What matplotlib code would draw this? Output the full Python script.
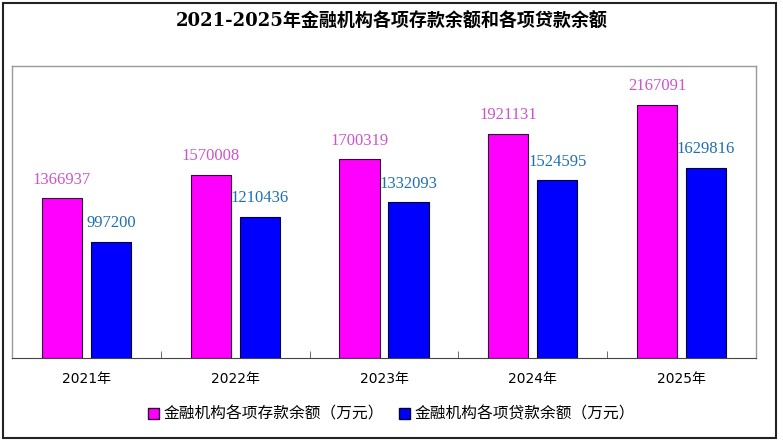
import numpy as np
import matplotlib
matplotlib.use("Agg")
import matplotlib.pyplot as plt
from matplotlib.patches import Rectangle, Patch

years = ["2021年", "2022年", "2023年", "2024年", "2025年"]
cunkuan = [1366937, 1570008, 1700319, 1921131, 2167091]
daikuan = [997200, 1210436, 1332093, 1524595, 1629816]

title = "2021-2025年金融机构各项存款余额和各项贷款余额"
label_cunkuan = "金融机构各项存款余额（万元）"
label_daikuan = "金融机构各项贷款余额（万元）"

sans = ["DejaVu Sans", "Noto Sans CJK SC"]
serif = ["DejaVu Serif", "Noto Sans CJK SC"]
num_font = ["Liberation Serif", "DejaVu Serif"]

fig = plt.figure(figsize=(7.83, 4.44), dpi=100)
ax = fig.add_axes([12/783, 1-358/444, 744/783, 292/444])

x = np.arange(len(years))
w = 0.27
off = 0.165
ax.bar(x - off, cunkuan, w, color="#ff00ff", edgecolor="#330033", linewidth=0.8)
ax.bar(x + off, daikuan, w, color="#0000ff", edgecolor="#000033", linewidth=0.8)

for i in range(len(years)):
    ax.annotate(str(cunkuan[i]), (x[i] - off, cunkuan[i]), xytext=(0, 7.5),
                textcoords="offset points", ha="center", va="bottom",
                color="#cc55cc", fontsize=12, family=num_font)
    ax.annotate(str(daikuan[i]), (x[i] + off, daikuan[i]), xytext=(0, 7.5),
                textcoords="offset points", ha="center", va="bottom",
                color="#1f6fb0", fontsize=12, family=num_font)

ax.set_xlim(-0.5, len(years) - 0.5)
ax.set_ylim(0, 2500000)
ax.set_yticks([])
ax.set_xticks(x)
ax.set_xticklabels(years, fontsize=10, family=sans)
ax.tick_params(axis="x", which="major", length=0, pad=10)
ax.set_xticks(np.arange(0.5, len(years) - 1, 1.0), minor=True)
ax.tick_params(axis="x", which="minor", direction="in", length=5, color="#555555")
for s in ["top", "left", "right"]:
    ax.spines[s].set_color("#999999")
    ax.spines[s].set_linewidth(1.0)
ax.spines["bottom"].set_color("#444444")

fig.text(0.5, 1 - 22/444, title, ha="center", va="center", fontsize=13,
         fontweight="bold", family=serif)

handles = [Patch(facecolor="#ff00ff", edgecolor="#330033", label=label_cunkuan),
           Patch(facecolor="#0000ff", edgecolor="#000033", label=label_daikuan)]
fig.legend(handles=handles, loc="center", bbox_to_anchor=(0.5, 1 - 414/444),
           ncol=2, frameon=False, prop={"family": sans, "size": 11.3},
           handlelength=0.7, handleheight=0.7, handletextpad=0.3, columnspacing=0.9)

fig.patches.append(Rectangle((3/783, 1-438/444), 773/783, 435/444,
                             transform=fig.transFigure, fill=False,
                             edgecolor="#222222", linewidth=1.5))

fig.savefig("out.png", dpi=100)
